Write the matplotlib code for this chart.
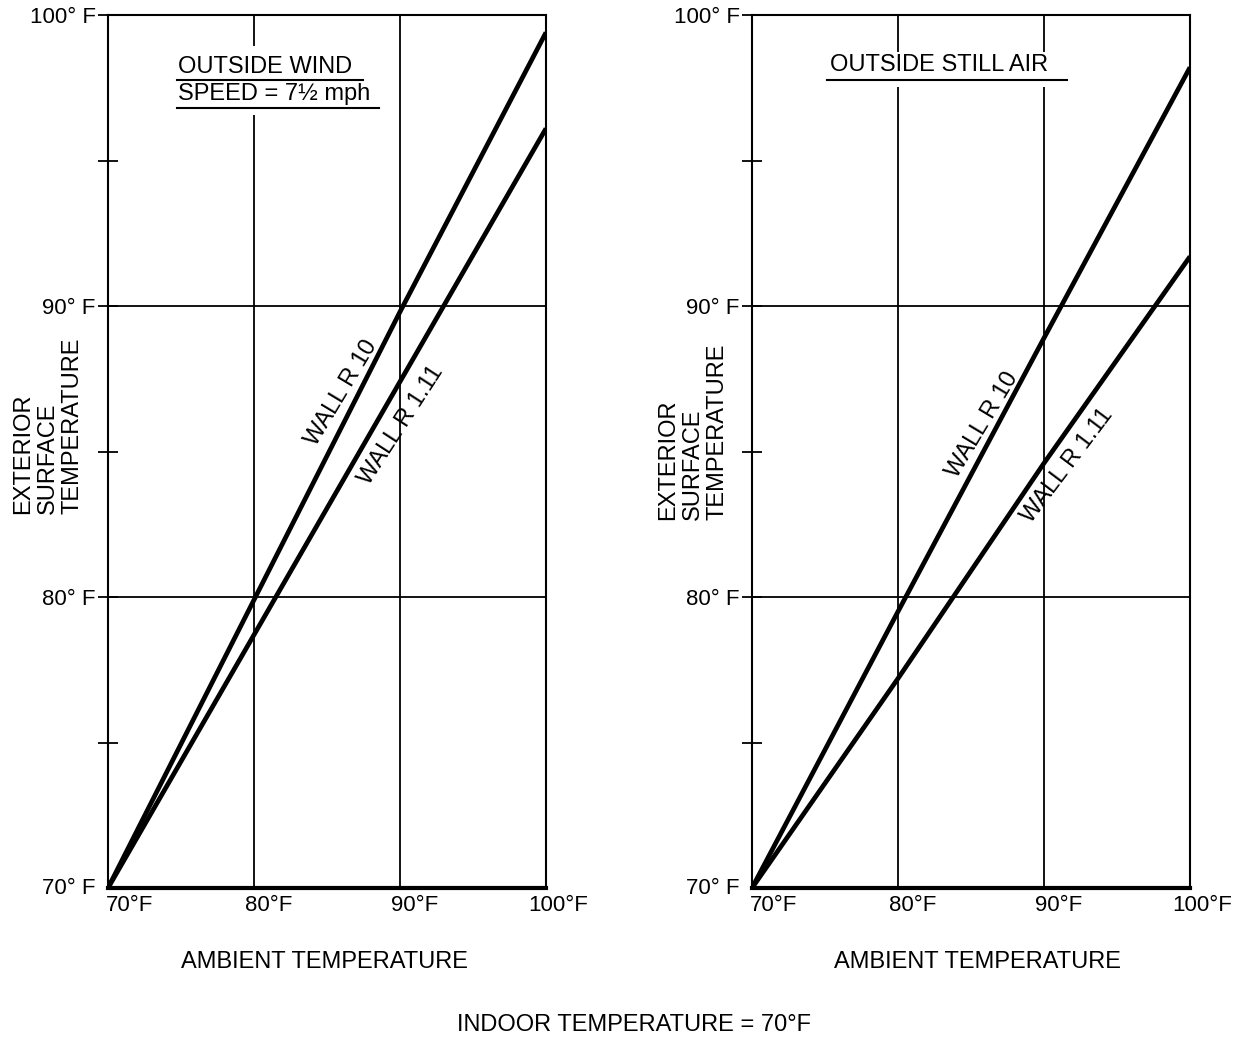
import matplotlib
matplotlib.use("Agg")
import matplotlib.pyplot as plt
from matplotlib.patches import Rectangle
from matplotlib.transforms import ScaledTranslation

ambient = [70, 80, 90, 100]
wind_r10 = [70, 79.9, 89.8, 99.4]
wind_r111 = [70, 78.7, 87.4, 96.1]
still_r10 = [70, 79.5, 88.9, 98.2]
still_r111 = [70, 77.2, 84.6, 91.7]
xtick_labels = ["70°F", "80°F", "90°F", "100°F"]
ytick_labels = ["70° F", "80° F", "90° F", "100° F"]

plt.rcParams['font.family'] = ['Liberation Sans', 'DejaVu Sans']

fig = plt.figure(figsize=(12.41, 10.40), dpi=100)
ax1 = fig.add_axes([108/1241, 152/1040, 438/1241, 873/1040])
ax2 = fig.add_axes([752/1241, 152/1040, 438/1241, 873/1040])

TICK_FS = 16
LAB_FS = 17

def setup(ax, r10, r111, title_lines, cover, lab10, lab111, ylab_xy, xlab_x):
    ax.set_xlim(70, 100)
    ax.set_ylim(70, 100)
    for v in [80, 90]:
        ax.axvline(v, color='black', lw=1.3, zorder=1)
        ax.axhline(v, color='black', lw=1.3, zorder=1)
    ax.plot(ambient, r10, color='black', lw=3.4, solid_capstyle='butt', zorder=3)
    ax.plot(ambient, r111, color='black', lw=3.4, solid_capstyle='butt', zorder=3)
    for s in ['left', 'right', 'top']:
        ax.spines[s].set_linewidth(1.5)
    ax.spines['bottom'].set_linewidth(3.0)
    ax.set_yticks([75, 80, 85, 90, 95, 100])
    ax.set_yticklabels(["", ytick_labels[1], "", ytick_labels[2], "", ytick_labels[3]], fontsize=TICK_FS)
    ax.tick_params(axis='y', direction='inout', length=14, width=1.3, pad=2)
    ax.set_xticks(ambient)
    ax.set_xticklabels(xtick_labels, fontsize=TICK_FS)
    ax.tick_params(axis='x', length=0, pad=5)
    offs = [22, 15, 15, 12]
    for lbl, o in zip(ax.get_xticklabels(), offs):
        lbl.set_transform(lbl.get_transform() + ScaledTranslation(o/100, 0, fig.dpi_scale_trans))
    ax.text(0, 70, ytick_labels[0], ha='right', va='center', fontsize=TICK_FS,
            transform=ax.get_yaxis_transform() + ScaledTranslation(-13/100, 0, fig.dpi_scale_trans))
    ax.text(ylab_xy[0], ylab_xy[1], "EXTERIOR\nSURFACE\nTEMPERATURE", transform=ax.transAxes,
            rotation=90, ha='center', va='center', multialignment='left', fontsize=LAB_FS,
            linespacing=1.15)
    ax.text(xlab_x, -0.085, "AMBIENT TEMPERATURE", transform=ax.transAxes,
            ha='center', va='center', fontsize=LAB_FS)
    ax.add_patch(Rectangle((cover[0], cover[1]), cover[2] - cover[0], cover[3] - cover[1],
                           transform=ax.transAxes, facecolor='white', edgecolor='none', zorder=1.5))
    for (txt, x, y, x0, x1, uy) in title_lines:
        ax.text(x, y, txt, transform=ax.transAxes, ha='left', va='baseline', fontsize=LAB_FS, zorder=4)
        ax.plot([x0, x1], [uy, uy], transform=ax.transAxes, color='black', lw=1.5, zorder=4)
    for (txt, x, y, rot) in [lab10, lab111]:
        ax.text(x, y, txt, fontsize=LAB_FS, rotation=rot, ha='center', va='center',
                rotation_mode='anchor', zorder=4)

setup(ax1, wind_r10, wind_r111,
      [("OUTSIDE WIND", 0.160, 0.934, 0.158, 0.582, 0.926),
       ("SPEED = 7½ mph", 0.160, 0.903, 0.158, 0.619, 0.894)],
      (0.15, 0.885, 0.63, 0.965),
      ("WALL R 10", 86.0, 87.0, 59),
      ("WALL R 1.11", 90.1, 85.9, 57),
      (-0.137, 0.529), 0.495)
setup(ax2, still_r10, still_r111,
      [("OUTSIDE STILL AIR", 0.178, 0.936, 0.172, 0.720, 0.926)],
      (0.165, 0.918, 0.73, 0.958),
      ("WALL R 10", 85.8, 85.9, 59),
      ("WALL R 1.11", 91.6, 84.5, 53),
      (-0.135, 0.523), 0.514)

fig.text(634/1241, 1 - 1025/1040, "INDOOR TEMPERATURE = 70°F", ha='center', va='center', fontsize=LAB_FS)

fig.savefig("out.png", dpi=100)
